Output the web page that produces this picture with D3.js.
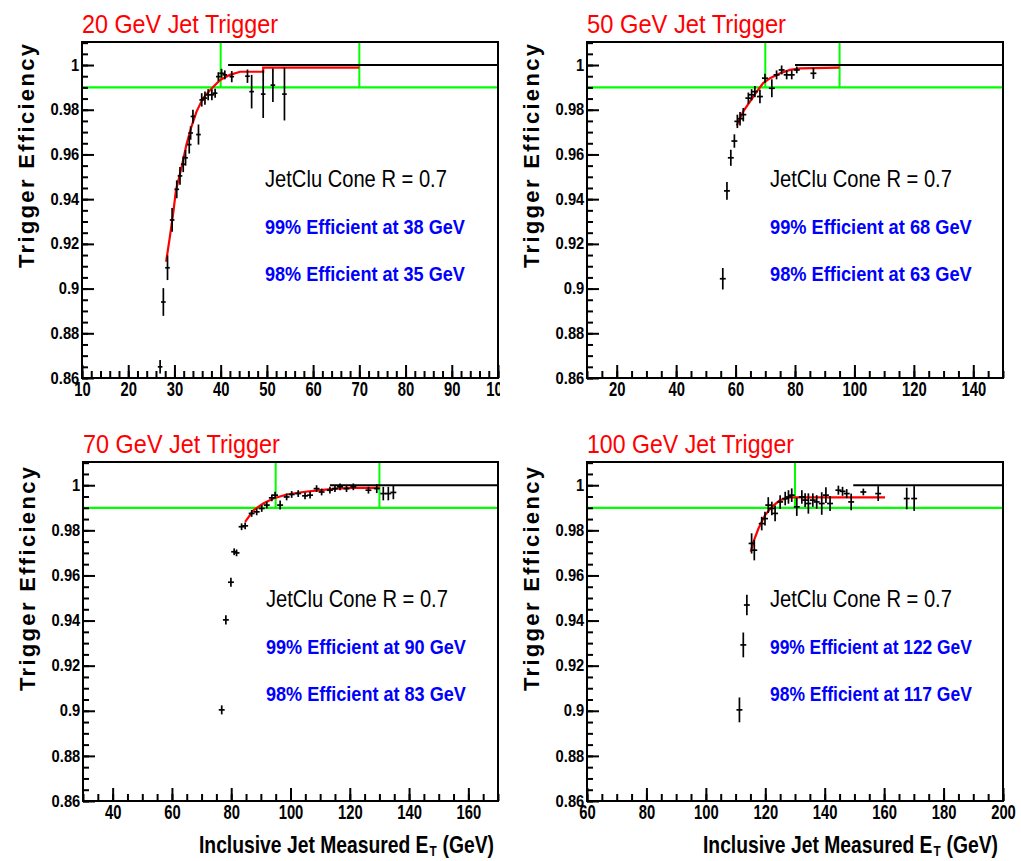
<!DOCTYPE html>
<html><head><meta charset="utf-8">
<script src="https://cdn.jsdelivr.net/npm/d3@7"></script>
<style>body{margin:0;background:#fff}svg{display:block}</style>
</head><body>
<script>
// ---------- DATA ----------
const titles = ["20 GeV Jet Trigger", "50 GeV Jet Trigger", "70 GeV Jet Trigger", "100 GeV Jet Trigger"];
const coneLabel = "JetClu Cone R = 0.7";
const eff99Labels = ["99% Efficient at 38 GeV", "99% Efficient at 68 GeV", "99% Efficient at 90 GeV", "99% Efficient at 122 GeV"];
const eff98Labels = ["98% Efficient at 35 GeV", "98% Efficient at 63 GeV", "98% Efficient at 83 GeV", "98% Efficient at 117 GeV"];
const yTitle = "Trigger Efficiency";
const xTitleMain = "Inclusive Jet Measured E", xTitleSub = "T", xTitleEnd = "(GeV)";

const xDomains = [[10, 100], [10, 150], [30, 170], [60, 200]];
const xMajorTicks = [
  [10, 20, 30, 40, 50, 60, 70, 80, 90, 100],
  [20, 40, 60, 80, 100, 120, 140],
  [40, 60, 80, 100, 120, 140, 160],
  [60, 80, 100, 120, 140, 160, 180, 200]
];
const xMinorStep = [2, 5, 5, 5];
const yDomain = [0.86, 1.0103];
const yTicks = [0.86, 0.88, 0.90, 0.92, 0.94, 0.96, 0.98, 1.00];
const yTickLabels = ["0.86", "0.88", "0.9", "0.92", "0.94", "0.96", "0.98", "1"];
const yMinorStep = 0.005;

const efficiencyLevel = 0.99;
const greenVerticals = [[40, 70], [70, 95], [95, 130], [130]];
const unityLineStart = [41.6, 80, 113.3, 149.6];
const xErrHalf = [0.5, 1, 1, 1];

// [E_T, efficiency, error]
const data20 = [
  [26.9, 0.865, 0.003], [27.6, 0.894, 0.0062], [28.5, 0.9093, 0.0055], [29.5, 0.9307, 0.0053],
  [30.5, 0.9444, 0.004], [31.2, 0.9504, 0.004], [31.9, 0.9556, 0.0035], [32.4, 0.9585, 0.0035],
  [33.2, 0.9644, 0.004], [33.5, 0.9696, 0.003], [34.0, 0.977, 0.003], [35.2, 0.9689, 0.0045],
  [35.9, 0.9844, 0.003], [36.6, 0.9852, 0.003], [37.3, 0.9867, 0.0025], [38.1, 0.9867, 0.0025],
  [38.8, 0.9874, 0.002], [39.5, 0.9948, 0.002], [40.2, 0.9963, 0.002], [40.9, 0.9956, 0.002],
  [42.4, 0.9948, 0.0025], [45.8, 0.995, 0.003], [46.7, 0.9881, 0.0075], [49.2, 0.987, 0.0107],
  [51.3, 0.991, 0.0075], [53.8, 0.987, 0.0118]
];
const data50 = [
  [55.7, 0.9044, 0.0048], [57.1, 0.9437, 0.004], [58.4, 0.9585, 0.0036], [59.6, 0.966, 0.003],
  [60.6, 0.9748, 0.003], [61.5, 0.976, 0.003], [62.6, 0.9778, 0.003], [64.3, 0.9852, 0.0025],
  [65.4, 0.9867, 0.0025], [66.5, 0.9881, 0.0025], [68.2, 0.9859, 0.003], [69.9, 0.9941, 0.002],
  [72.2, 0.9896, 0.004], [73.8, 0.9956, 0.002], [75.5, 0.9978, 0.002], [77.2, 0.9956, 0.002],
  [78.9, 0.9956, 0.002], [80.6, 0.9978, 0.0015], [86.2, 0.9963, 0.0025]
];
const data70 = [
  [76.8, 0.9004, 0.002], [78.2, 0.9403, 0.002], [79.9, 0.957, 0.002], [81.0, 0.9705, 0.0015],
  [81.8, 0.970, 0.0015], [83.5, 0.9816, 0.0015], [84.7, 0.982, 0.0015], [86.9, 0.9875, 0.0015],
  [88.6, 0.9882, 0.0015], [90.3, 0.9897, 0.0015], [92.0, 0.9912, 0.0015], [93.7, 0.9944, 0.0015],
  [94.8, 0.9956, 0.0015], [96.5, 0.9912, 0.002], [98.7, 0.9948, 0.0015], [100.4, 0.9959, 0.0015],
  [102.6, 0.9963, 0.0015], [104.9, 0.9953, 0.0015], [106.6, 0.9956, 0.0015], [108.8, 0.9985, 0.0015],
  [110.5, 0.997, 0.0015], [113.3, 0.9978, 0.0015], [115.0, 0.9985, 0.0015], [116.7, 0.9993, 0.0015],
  [118.9, 0.9985, 0.0015], [121.2, 0.9993, 0.0015], [126.3, 0.9978, 0.0015], [129.1, 0.9985, 0.002],
  [131.3, 0.9963, 0.003], [133.0, 0.9963, 0.003], [134.7, 0.9968, 0.003]
];
const data100 = [
  [111.3, 0.9004, 0.0055], [112.6, 0.9292, 0.0055], [113.8, 0.9469, 0.0045], [115.4, 0.9742, 0.0045],
  [116.3, 0.9712, 0.0045], [118.8, 0.983, 0.003], [119.9, 0.9852, 0.003], [121.0, 0.9912, 0.0035],
  [122.2, 0.9897, 0.003], [123.3, 0.9875, 0.0035], [125.0, 0.9926, 0.003], [126.7, 0.9941, 0.003],
  [127.8, 0.9948, 0.003], [128.9, 0.9956, 0.003], [130.6, 0.9904, 0.004], [132.3, 0.9948, 0.003],
  [133.4, 0.9934, 0.003], [134.5, 0.9919, 0.0045], [136.0, 0.9934, 0.003], [137.3, 0.9926, 0.003],
  [139.0, 0.9919, 0.005], [140.4, 0.9956, 0.0035], [141.8, 0.9919, 0.0033], [144.6, 0.9978, 0.002],
  [146.0, 0.9973, 0.002], [147.4, 0.9963, 0.002], [148.9, 0.9926, 0.0037], [153.0, 0.997, 0.0015],
  [158.0, 0.9963, 0.0033], [167.6, 0.9941, 0.0048], [170.1, 0.9941, 0.0055]
];

// fitted curves [E_T, efficiency]
const fit20 = [
  [28.2, 0.912], [29.0, 0.923], [29.8, 0.9348], [30.3, 0.9437], [31.6, 0.9548], [32.6, 0.9644],
  [33.7, 0.9726], [34.8, 0.9793], [36.2, 0.9852], [38.1, 0.9896], [39.9, 0.9933], [42.0, 0.9956],
  [44.2, 0.997], [49.2, 0.997], [49.2, 0.9988], [70, 0.9988]
];
const fit50 = [
  [60.4, 0.9729], [62.6, 0.9793], [64.9, 0.9837], [67.1, 0.9881], [69.3, 0.9919], [71.6, 0.9941],
  [75.0, 0.9963], [78.3, 0.9978], [81.7, 0.9985], [95, 0.9988]
];
const fit70 = [
  [84.7, 0.9838], [87.5, 0.9889], [90.8, 0.9919], [94.2, 0.9941], [98.7, 0.9959], [104.3, 0.997],
  [110, 0.9978], [115.6, 0.9985], [121.2, 0.9988], [130.2, 0.9988]
];
const fit100 = [
  [115.1, 0.9705], [116.0, 0.9749], [117.7, 0.9808], [119.9, 0.9867], [122.2, 0.9904], [125.0, 0.9934],
  [128.3, 0.9946], [131.7, 0.9946], [160.3, 0.9946]
];

const panelData = [data20, data50, data70, data100];
const panelFits = [fit20, fit50, fit70, fit100];

// ---------- LAYOUT ----------
const W = 1021, H = 861;
const frames = [
  {l: 82, r: 498, t: 42, b: 378, clip: true, xTitle: false},
  {l: 587, r: 1003, t: 42, b: 378, clip: false, xTitle: false},
  {l: 83, r: 498, t: 462, b: 801, clip: false, xTitle: true},
  {l: 587, r: 1003, t: 462, b: 801, clip: false, xTitle: true}
];
const titleWidths = [196, 199, 197, 207];
const effWidths = [200, 202, 200, 202];
const FONT = "'Liberation Sans', Arial, Helvetica, sans-serif";

const svg = d3.select("body").append("svg").attr("width", W).attr("height", H)
  .style("font-family", FONT);

svg.append("defs").append("clipPath").attr("id", "clipP1")
  .append("rect").attr("x", 0).attr("y", 0).attr("width", 500).attr("height", 430);

function fitText(parent, x, y, str, size, weight, fill, width) {
  const g = parent.append("g");
  const t = g.append("text").attr("x", 0).attr("y", 0)
    .attr("font-size", size).attr("font-weight", weight).attr("fill", fill).text(str);
  const w = t.node().getComputedTextLength();
  g.attr("transform", `translate(${x},${y}) scale(${width / w},1)`);
  return t;
}

frames.forEach((f, i) => {
  const g = svg.append("g");
  if (f.clip) g.attr("clip-path", "url(#clipP1)");
  const x = d3.scaleLinear().domain(xDomains[i]).range([f.l, f.r]);
  const y = d3.scaleLinear().domain(yDomain).range([f.b, f.t]);

  const plot = g.append("g");
  plot.append("line").attr("x1", f.l).attr("x2", f.r)
    .attr("y1", y(efficiencyLevel)).attr("y2", y(efficiencyLevel))
    .attr("stroke", "#00ff00").attr("stroke-width", 2.2);
  greenVerticals[i].forEach(v => {
    plot.append("line").attr("x1", x(v)).attr("x2", x(v))
      .attr("y1", y(efficiencyLevel)).attr("y2", y(yDomain[1]))
      .attr("stroke", "#00ff00").attr("stroke-width", 2);
  });
  plot.append("line").attr("x1", x(unityLineStart[i])).attr("x2", f.r)
    .attr("y1", y(1)).attr("y2", y(1))
    .attr("stroke", "#000").attr("stroke-width", 2);
  plot.append("path").datum(panelFits[i])
    .attr("d", d3.line().x(d => x(d[0])).y(d => y(d[1])))
    .attr("fill", "none").attr("stroke", "#ff0000").attr("stroke-width", 2.2);
  const pts = plot.append("g").attr("stroke", "#000").attr("stroke-width", 1.7);
  panelData[i].forEach(d => {
    pts.append("line").attr("x1", x(d[0])).attr("x2", x(d[0]))
      .attr("y1", Math.min(f.b, y(d[1] - d[2]))).attr("y2", y(d[1] + d[2]));
    pts.append("line").attr("x1", x(d[0] - xErrHalf[i])).attr("x2", x(d[0] + xErrHalf[i]))
      .attr("y1", y(d[1])).attr("y2", y(d[1]));
  });

  const yMinor = d3.range(0, 40).map(k => +(yDomain[0] + k * yMinorStep).toFixed(4)).filter(v => v <= yDomain[1]);
  const yAx = g.append("g").attr("transform", `translate(${f.l},0)`)
    .call(d3.axisLeft(y).tickValues(yTicks).tickFormat((d, k) => yTickLabels[k])
      .tickSizeInner(-12).tickSizeOuter(0).tickPadding(3));
  yAx.select(".domain").remove();
  yAx.selectAll("line").attr("stroke-width", 2);
  yAx.attr("font-family", FONT).attr("font-size", 16).attr("font-weight", "bold");
  yAx.selectAll("text").attr("transform", "scale(0.92,1)");
  const yAxm = g.append("g").attr("transform", `translate(${f.l},0)`)
    .call(d3.axisLeft(y).tickValues(yMinor).tickFormat("").tickSizeInner(-6).tickSizeOuter(0));
  yAxm.select(".domain").remove();
  yAxm.selectAll("line").attr("stroke-width", 2);

  const xd = xDomains[i];
  const xMinor = d3.range(0, 100).map(k => xd[0] + k * xMinorStep[i]).filter(v => v <= xd[1]);
  const xAx = g.append("g").attr("transform", `translate(0,${f.b})`)
    .call(d3.axisBottom(x).tickValues(xMajorTicks[i]).tickFormat(d3.format("d"))
      .tickSizeInner(-13).tickSizeOuter(0).tickPadding(4));
  xAx.select(".domain").remove();
  xAx.selectAll("line").attr("stroke-width", 2);
  xAx.attr("font-family", FONT).attr("font-size", 20).attr("font-weight", "bold");
  xAx.selectAll("text").attr("transform", "scale(0.74,1)");
  const xAxm = g.append("g").attr("transform", `translate(0,${f.b})`)
    .call(d3.axisBottom(x).tickValues(xMinor).tickFormat("").tickSizeInner(-7).tickSizeOuter(0));
  xAxm.select(".domain").remove();
  xAxm.selectAll("line").attr("stroke-width", 2);

  g.append("rect").attr("x", f.l).attr("y", f.t).attr("width", f.r - f.l).attr("height", f.b - f.t)
    .attr("fill", "none").attr("stroke", "#000").attr("stroke-width", 2);

  fitText(g, f.l, f.t - 9, titles[i], 25, "normal", "#ff0000", titleWidths[i]);
  fitText(g, f.l + 183, f.t + 145, coneLabel, 23, "normal", "#000", 182);
  fitText(g, f.l + 183, f.t + 192, eff99Labels[i], 21, "bold", "#0000ff", effWidths[i]);
  fitText(g, f.l + 183, f.t + 239, eff98Labels[i], 21, "bold", "#0000ff", effWidths[i]);

  g.append("text").attr("transform", `translate(${f.l - 48},${f.b - 110}) rotate(-90)`)
    .attr("font-size", 22).attr("font-weight", "bold").attr("fill", "#000")
    .attr("textLength", 224).attr("lengthAdjust", "spacing").text(yTitle);

  if (f.xTitle) {
    const xg = g.append("g");
    const t1 = xg.append("text").attr("x", 0).attr("y", 0)
      .attr("font-size", 23).attr("font-weight", "bold").text(xTitleMain);
    const w1 = t1.node().getComputedTextLength();
    const t2 = xg.append("text").attr("x", w1 + 1).attr("y", 3)
      .attr("font-size", 14).attr("font-weight", "bold").text(xTitleSub);
    const w2 = t2.node().getComputedTextLength();
    const t3 = xg.append("text").attr("x", w1 + w2 + 8).attr("y", 0)
      .attr("font-size", 23).attr("font-weight", "bold").text(xTitleEnd);
    const w3 = t3.node().getComputedTextLength();
    const total = w1 + w2 + 8 + w3;
    xg.attr("transform", `translate(${f.l + 116},${f.b + 52}) scale(${295 / total},1)`);
  }
});
</script>
</body></html>
